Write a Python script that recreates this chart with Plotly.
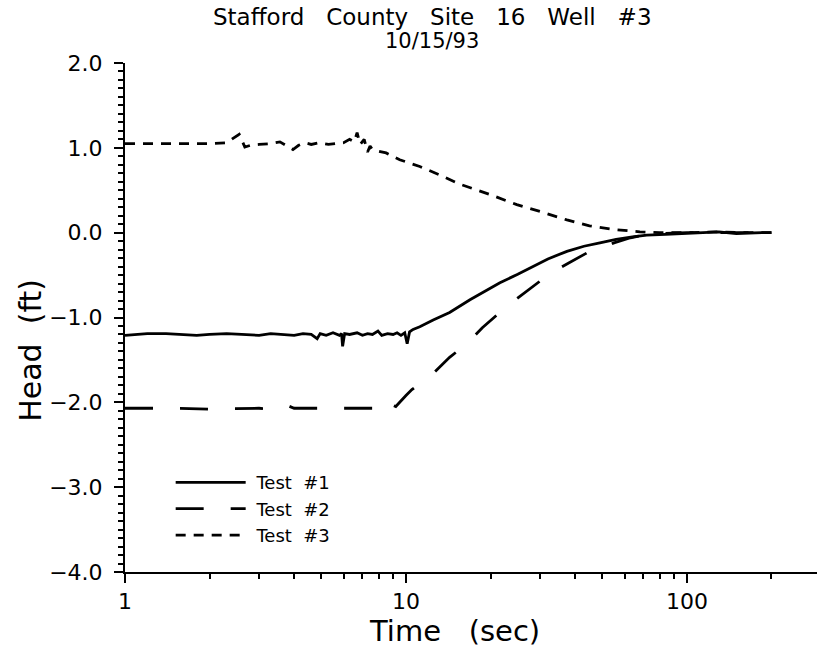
import plotly.graph_objects as go

# ---- data ----
t1_x = [1, 1.2, 1.4, 1.6, 1.8, 2.0, 2.3, 2.6, 3.0, 3.3, 3.6, 4.0, 4.3, 4.6, 4.83, 4.95, 5.2, 5.5, 5.8, 5.9, 5.95, 6.05, 6.3, 6.7, 7.0, 7.3, 7.6, 7.95, 8.2, 8.6, 9.0, 9.3, 9.6, 9.9, 10.1, 10.3, 10.6, 11.2, 12.5, 14.3, 16.9, 19.0, 21.6, 25.0, 28.3, 32.0, 37.4, 43.0, 49.0, 56.0, 64.0, 72.0, 84.0, 95.0, 110, 130, 150, 170, 185, 200]
t1_y = [-1.21, -1.19, -1.19, -1.20, -1.21, -1.20, -1.19, -1.20, -1.21, -1.19, -1.20, -1.21, -1.19, -1.20, -1.25, -1.19, -1.21, -1.18, -1.21, -1.19, -1.34, -1.19, -1.20, -1.18, -1.21, -1.19, -1.20, -1.16, -1.21, -1.19, -1.20, -1.18, -1.21, -1.18, -1.31, -1.17, -1.14, -1.11, -1.03, -0.94, -0.79, -0.69, -0.59, -0.49, -0.40, -0.31, -0.22, -0.16, -0.12, -0.08, -0.05, -0.03, -0.02, -0.01, 0.0, 0.01, -0.01, 0.0, 0.0, 0.0]

t2_x = [1, 1.5, 2, 2.5, 3, 3.3, 3.6, 3.8, 4.0, 4.3, 5, 6, 7, 7.8, 8.2, 8.4, 8.6, 8.9, 9.2, 9.6, 10.0, 10.5, 12.4, 14.3, 16.6, 18.7, 21.6, 24.8, 28.3, 32.6, 37.4, 44, 50, 55, 63, 70, 80, 100, 130, 160, 200]
t2_y = [-2.07, -2.07, -2.08, -2.07, -2.07, -2.08, -2.06, -2.04, -2.07, -2.07, -2.07, -2.07, -2.07, -2.07, -2.08, -2.00, -2.02, -2.03, -2.05, -1.98, -1.92, -1.85, -1.67, -1.47, -1.30, -1.12, -0.94, -0.78, -0.63, -0.48, -0.37, -0.24, -0.18, -0.12, -0.06, -0.03, -0.01, 0.0, 0.0, 0.0, 0.0]

t3_x = [1, 1.5, 2.0, 2.3, 2.45, 2.55, 2.67, 2.8, 3.0, 3.3, 3.56, 3.8, 3.96, 4.15, 4.37, 4.6, 4.9, 5.3, 5.7, 6.0, 6.3, 6.55, 6.7, 6.87, 7.1, 7.3, 7.45, 7.6, 8.0, 8.5, 9.5, 11.2, 13.2, 15.6, 19.9, 24.8, 30.7, 37.4, 45, 56, 68, 80, 100, 130, 160, 200]
t3_y = [1.05, 1.05, 1.05, 1.06, 1.12, 1.16, 1.01, 1.03, 1.04, 1.05, 1.07, 1.02, 0.98, 1.03, 1.06, 1.04, 1.06, 1.04, 1.05, 1.06, 1.10, 1.07, 1.18, 1.04, 1.10, 0.95, 1.02, 0.98, 0.96, 0.94, 0.86, 0.78, 0.68, 0.57, 0.45, 0.33, 0.24, 0.15, 0.08, 0.035, 0.01, 0.0, 0.0, 0.01, 0.0, 0.0]

NB = "\u00a0"
series_names = [NB + "Test" + NB * 2 + "#1", NB + "Test" + NB * 2 + "#2", NB + "Test" + NB * 2 + "#3"]
y_ticks = [2.0, 1.0, 0.0, -1.0, -2.0, -3.0, -4.0]
x_ticks = [1, 10, 100]
title_lines = [(NB * 3).join(["Stafford", "County", "Site", "16", "Well", "#3"]), "10/15/93"]
x_title = "Time" + NB * 3 + "(sec)"
y_title = "Head" + NB * 2 + "(ft)"

FONT = "DejaVu Sans"

fig = go.Figure()
fig.add_trace(go.Scatter(x=t1_x, y=t1_y, mode="lines", name=series_names[0],
                         line=dict(color="black", width=2.8, dash="solid")))
fig.add_trace(go.Scatter(x=t2_x, y=t2_y, mode="lines", name=series_names[1],
                         line=dict(color="black", width=2.8, dash="28px,27px")))
fig.add_trace(go.Scatter(x=t3_x, y=t3_y, mode="lines", name=series_names[2],
                         line=dict(color="black", width=2.8, dash="10px,8px")))

fig.update_layout(
    width=817, height=649,
    margin=dict(l=125, r=0, t=63, b=77),
    paper_bgcolor="white", plot_bgcolor="white",
    font=dict(family=FONT, color="black", size=20),
    showlegend=True,
    legend=dict(x=0.066, y=0.212, xanchor="left", yanchor="top",
                bgcolor="rgba(0,0,0,0)", font=dict(family=FONT, size=18),
                itemwidth=70, tracegroupgap=0),
)

# title lines and axis titles placed as annotations (paper coordinates)
fig.add_annotation(text=title_lines[0], xref="paper", yref="paper", x=0.4437, y=1.091,
                   xanchor="center", yanchor="middle", showarrow=False,
                   font=dict(family=FONT, size=23))
fig.add_annotation(text=title_lines[1], xref="paper", yref="paper", x=0.4437, y=1.044,
                   xanchor="center", yanchor="middle", showarrow=False,
                   font=dict(family=FONT, size=21))
fig.add_annotation(text=x_title, xref="paper", yref="paper", x=0.476, y=-0.116,
                   xanchor="center", yanchor="middle", showarrow=False,
                   font=dict(family=FONT, size=29))
fig.add_annotation(text=y_title, xref="paper", yref="paper", x=-0.137, y=0.435,
                   xanchor="center", yanchor="middle", showarrow=False, textangle=-90,
                   font=dict(family=FONT, size=30))

fig.update_xaxes(
    type="log", range=[0, 2.463],
    showline=True, linecolor="black", linewidth=2, mirror=False,
    showgrid=False, zeroline=False,
    tickmode="array", tickvals=x_ticks, ticktext=[str(v) for v in x_ticks],
    ticks="outside", ticklen=9, tickwidth=2, tickcolor="black",
    tickfont=dict(size=22),
    minor=dict(ticks="outside", ticklen=5, tickwidth=2, tickcolor="black", dtick="D1", showgrid=False),
)
fig.update_yaxes(
    range=[-4.0, 2.0],
    showline=True, linecolor="black", linewidth=2, mirror=False,
    showgrid=False, zeroline=False,
    tickmode="array", tickvals=y_ticks, ticktext=[f"{v:.1f}".replace("-", "\u2212") for v in y_ticks],
    ticks="outside", ticklen=9, tickwidth=2, tickcolor="black",
    tickfont=dict(size=22), ticklabelstandoff=7,
    minor=dict(ticks="outside", ticklen=5, tickwidth=1.5, tickcolor="black", dtick=0.1, showgrid=False),
)

fig.write_html("out.html")
